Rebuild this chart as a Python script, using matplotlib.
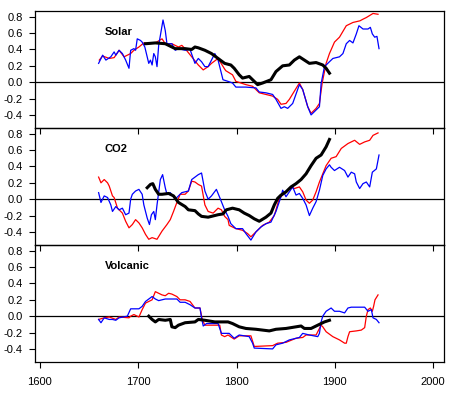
import matplotlib
matplotlib.use("Agg")
import matplotlib.pyplot as plt

plt.rcParams['font.family'] = ['Liberation Sans', 'DejaVu Sans']

panel_names = ["Solar", "CO2", "Volcanic"]
x_ticks = [1600, 1700, 1800, 1900, 2000]
y_ticks = [0.8, 0.6, 0.4, 0.2, 0.0, -0.2, -0.4]

# --- Solar ---
solar_blue_yr = [1659.7, 1663.8, 1667.1, 1672.1, 1675.5, 1677.2, 1680.5, 1683.9, 1687.2, 1690.6,
                 1692.3, 1695.6, 1697.3, 1699.0, 1702.3, 1704.0, 1706.7, 1710.7, 1712.4, 1714.1,
                 1715.8, 1717.4, 1719.1, 1720.8, 1725.2, 1727.5, 1729.2, 1734.2, 1737.6, 1740.9,
                 1747.7, 1752.7, 1757.7, 1761.1, 1764.4, 1767.8, 1771.1, 1777.9, 1781.2, 1786.2,
                 1791.3, 1795.9, 1799.3, 1809.5, 1819.7, 1823.1, 1829.9, 1836.7, 1840.1, 1845.2,
                 1848.6, 1852.0, 1857.1, 1863.9, 1867.3, 1872.4, 1875.8, 1880.9, 1884.3, 1886.0,
                 1889.4, 1894.5, 1898.0, 1904.7, 1908.2, 1911.6, 1915.0, 1918.4, 1921.8, 1924.5,
                 1928.6, 1933.7, 1936.1, 1938.1, 1940.5, 1942.8, 1944.9]
solar_blue = [0.23, 0.33, 0.27, 0.31, 0.37, 0.33, 0.39, 0.35, 0.27, 0.17,
              0.39, 0.41, 0.39, 0.53, 0.51, 0.49, 0.43, 0.23, 0.27, 0.21,
              0.35, 0.31, 0.19, 0.45, 0.76, 0.63, 0.47, 0.47, 0.39, 0.41,
              0.39, 0.40, 0.23, 0.29, 0.25, 0.19, 0.19, 0.35, 0.27, 0.03,
              0.01, -0.01, -0.06, -0.06, -0.07, -0.12, -0.13, -0.15, -0.21, -0.32,
              -0.30, -0.32, -0.26, -0.03, -0.09, -0.30, -0.40, -0.34, -0.30, -0.02,
              0.19, 0.25, 0.29, 0.31, 0.35, 0.47, 0.51, 0.48, 0.59, 0.69,
              0.65, 0.65, 0.67, 0.59, 0.55, 0.56, 0.41]

solar_red_yr = [1660.4, 1663.8, 1670.5, 1675.5, 1680.5, 1685.6, 1688.9, 1692.3, 1695.6, 1700.7,
                1705.7, 1710.7, 1717.4, 1724.2, 1727.5, 1734.2, 1740.9, 1744.3, 1747.7, 1754.4,
                1761.1, 1766.1, 1771.1, 1774.5, 1781.2, 1787.9, 1789.1, 1795.9, 1799.3, 1809.5,
                1816.3, 1823.1, 1829.9, 1836.7, 1841.8, 1845.2, 1850.3, 1853.7, 1863.9, 1867.3,
                1872.4, 1875.8, 1880.9, 1884.3, 1887.1, 1891.1, 1894.5, 1899.6, 1904.7, 1911.6,
                1918.4, 1925.5, 1928.6, 1932.0, 1938.8, 1943.9]
solar_red = [0.27, 0.32, 0.29, 0.30, 0.39, 0.31, 0.33, 0.35, 0.39, 0.43,
             0.48, 0.47, 0.48, 0.53, 0.47, 0.47, 0.43, 0.45, 0.41, 0.31,
             0.21, 0.15, 0.19, 0.23, 0.29, 0.16, 0.14, 0.09, 0.01, -0.03,
             -0.05, -0.13, -0.15, -0.17, -0.21, -0.27, -0.26, -0.21, -0.01, -0.09,
             -0.30, -0.38, -0.32, -0.26, -0.01, 0.23, 0.35, 0.49, 0.55, 0.69,
             0.73, 0.75, 0.77, 0.79, 0.84, 0.83]

solar_black_yr = [1707.4, 1717.4, 1727.5, 1737.6, 1747.7, 1754.4, 1757.7, 1761.1, 1767.8, 1774.5,
                  1781.2, 1787.9, 1794.2, 1797.6, 1802.7, 1806.1, 1812.9, 1816.3, 1821.4, 1826.5,
                  1835.0, 1840.1, 1846.9, 1853.7, 1858.8, 1863.9, 1869.0, 1874.1, 1880.9, 1887.7,
                  1891.1, 1894.5]
solar_black = [0.47, 0.48, 0.47, 0.41, 0.41, 0.40, 0.43, 0.42, 0.39, 0.35,
               0.29, 0.23, 0.21, 0.17, 0.09, 0.05, 0.07, 0.03, -0.03, -0.01,
               0.03, 0.13, 0.20, 0.21, 0.27, 0.31, 0.27, 0.23, 0.24, 0.21,
               0.17, 0.11]

# --- CO2 ---
co2_blue_yr = [1659.7, 1662.1, 1665.4, 1668.8, 1672.1, 1673.8, 1677.2, 1680.5, 1683.9, 1687.2,
               1690.6, 1692.3, 1694.0, 1697.3, 1700.7, 1704.0, 1705.7, 1709.1, 1711.4, 1713.4,
               1715.8, 1717.4, 1719.1, 1722.5, 1724.8, 1727.5, 1729.2, 1732.6, 1737.6, 1740.9,
               1744.3, 1751.0, 1754.4, 1761.1, 1764.4, 1767.8, 1771.1, 1774.5, 1779.5, 1782.9,
               1787.9, 1791.3, 1794.2, 1799.3, 1806.1, 1809.5, 1814.6, 1819.7, 1824.8, 1829.9,
               1835.0, 1840.1, 1845.2, 1846.9, 1850.3, 1853.7, 1857.1, 1860.5, 1863.9, 1867.3,
               1870.7, 1874.1, 1877.5, 1880.9, 1884.3, 1887.7, 1891.1, 1894.5, 1896.2, 1899.6,
               1904.7, 1909.9, 1913.3, 1916.7, 1920.1, 1921.8, 1925.2, 1928.6, 1932.0, 1935.4,
               1938.1, 1942.2, 1944.9]
co2_blue = [0.08, -0.04, 0.04, 0.02, -0.07, -0.15, -0.09, -0.13, -0.11, -0.19,
            -0.17, 0.00, 0.06, 0.10, 0.12, 0.06, -0.07, -0.23, -0.31, -0.19,
            -0.15, -0.25, -0.07, 0.24, 0.30, 0.14, 0.06, 0.08, 0.00, 0.04,
            0.08, 0.10, 0.24, 0.30, 0.32, 0.10, 0.00, 0.04, 0.12, 0.02,
            -0.13, -0.21, -0.30, -0.36, -0.36, -0.42, -0.50, -0.40, -0.34, -0.30,
            -0.28, -0.15, 0.03, 0.11, 0.03, 0.09, 0.15, 0.05, 0.07, 0.01,
            -0.07, -0.20, -0.11, -0.03, 0.11, 0.29, 0.37, 0.42, 0.39, 0.35,
            0.39, 0.35, 0.27, 0.33, 0.31, 0.21, 0.13, 0.19, 0.21, 0.15,
            0.33, 0.37, 0.54]

co2_red_yr = [1659.7, 1662.1, 1665.4, 1668.8, 1670.5, 1673.8, 1675.5, 1678.9, 1683.9, 1687.2,
              1690.6, 1694.0, 1697.3, 1700.7, 1704.0, 1707.4, 1710.7, 1714.1, 1719.1, 1724.2,
              1729.2, 1732.6, 1735.9, 1739.3, 1742.6, 1747.7, 1751.0, 1754.4, 1757.7, 1761.1,
              1764.4, 1767.8, 1771.1, 1776.2, 1781.2, 1784.6, 1787.9, 1791.3, 1792.5, 1799.3,
              1806.1, 1811.2, 1814.6, 1819.7, 1826.5, 1833.3, 1838.4, 1843.5, 1850.3, 1855.4,
              1858.8, 1863.9, 1867.3, 1870.7, 1874.1, 1877.5, 1880.9, 1884.3, 1891.1, 1896.2,
              1901.3, 1906.5, 1913.3, 1920.1, 1925.2, 1930.3, 1935.4, 1938.8, 1943.9]
co2_red = [0.27, 0.20, 0.24, 0.20, 0.16, 0.04, 0.02, -0.11, -0.17, -0.27,
           -0.35, -0.31, -0.25, -0.29, -0.35, -0.43, -0.49, -0.47, -0.49, -0.39,
           -0.31, -0.25, -0.15, -0.04, 0.06, 0.06, 0.10, 0.22, 0.21, 0.18,
           0.16, -0.07, -0.15, -0.17, -0.11, -0.13, -0.21, -0.25, -0.32, -0.36,
           -0.38, -0.42, -0.46, -0.40, -0.32, -0.28, -0.20, 0.01, 0.09, 0.15,
           0.13, 0.15, 0.09, -0.01, -0.05, -0.01, 0.09, 0.21, 0.41, 0.50,
           0.52, 0.62, 0.68, 0.72, 0.67, 0.70, 0.72, 0.78, 0.81]

co2_black_yr = [1709.1, 1712.4, 1714.8, 1717.4, 1720.8, 1724.2, 1730.9, 1735.9, 1740.9, 1747.7,
                1751.0, 1757.7, 1761.1, 1764.4, 1771.1, 1774.5, 1781.2, 1786.2, 1789.6, 1795.9,
                1802.7, 1807.8, 1812.9, 1818.0, 1823.1, 1829.9, 1835.0, 1838.4, 1841.8, 1845.2,
                1850.3, 1855.4, 1860.5, 1865.6, 1870.7, 1875.8, 1880.9, 1886.0, 1891.1, 1894.5]
co2_black = [0.14, 0.18, 0.19, 0.12, 0.06, 0.06, 0.07, 0.04, -0.04, -0.09,
             -0.13, -0.14, -0.18, -0.21, -0.22, -0.21, -0.19, -0.18, -0.13, -0.11,
             -0.13, -0.17, -0.20, -0.24, -0.27, -0.22, -0.17, -0.07, 0.01, 0.05,
             0.09, 0.15, 0.19, 0.24, 0.31, 0.41, 0.50, 0.54, 0.64, 0.73]

# --- Volcanic ---
volc_blue_yr = [1659.7, 1662.1, 1665.4, 1670.5, 1673.8, 1677.2, 1680.5, 1688.9, 1692.3, 1700.7,
                1704.0, 1707.4, 1714.1, 1717.4, 1720.8, 1727.5, 1739.3, 1742.6, 1747.7, 1752.7,
                1757.7, 1762.8, 1764.4, 1766.1, 1769.5, 1781.2, 1784.6, 1791.3, 1792.5, 1797.6,
                1802.7, 1812.9, 1816.3, 1818.0, 1836.7, 1840.1, 1846.9, 1853.7, 1863.9, 1867.3,
                1874.1, 1882.6, 1884.3, 1886.0, 1887.7, 1891.1, 1896.2, 1899.6, 1904.7, 1909.9,
                1913.3, 1916.7, 1930.3, 1933.7, 1937.1, 1938.8, 1942.2, 1944.9]
volc_blue = [-0.04, -0.08, -0.02, -0.04, -0.04, -0.05, -0.02, 0.00, 0.09, 0.09,
             0.12, 0.18, 0.24, 0.21, 0.19, 0.21, 0.21, 0.17, 0.17, 0.14,
             0.10, 0.10, -0.02, -0.12, -0.09, -0.09, -0.21, -0.21, -0.21, -0.27,
             -0.23, -0.25, -0.33, -0.39, -0.40, -0.35, -0.33, -0.29, -0.26, -0.21,
             -0.23, -0.25, -0.21, -0.07, 0.00, 0.06, 0.10, 0.06, 0.06, 0.04,
             0.10, 0.11, 0.11, 0.06, 0.08, -0.02, -0.04, -0.08]

volc_red_yr = [1659.7, 1665.4, 1670.5, 1677.2, 1680.5, 1690.6, 1692.3, 1695.6, 1700.7, 1704.0,
               1707.4, 1714.1, 1717.4, 1720.8, 1724.2, 1727.5, 1730.9, 1734.2, 1739.3, 1742.6,
               1747.7, 1752.7, 1757.7, 1762.8, 1765.1, 1767.8, 1782.9, 1784.6, 1787.9, 1791.3,
               1797.6, 1802.7, 1814.6, 1818.0, 1836.7, 1841.8, 1850.3, 1860.5, 1867.3, 1870.7,
               1880.9, 1884.3, 1886.0, 1887.7, 1891.1, 1897.9, 1904.7, 1909.9, 1911.6, 1913.3,
               1915.0, 1921.8, 1926.9, 1930.3, 1932.0, 1933.7, 1936.1, 1938.1, 1939.4, 1940.8,
               1943.9]
volc_red = [-0.04, -0.02, -0.01, -0.04, -0.01, -0.02, 0.00, 0.02, -0.01, 0.08,
            0.16, 0.20, 0.30, 0.28, 0.26, 0.25, 0.28, 0.27, 0.24, 0.20,
            0.20, 0.18, 0.10, 0.10, -0.04, -0.11, -0.11, -0.23, -0.25, -0.23,
            -0.28, -0.24, -0.24, -0.37, -0.36, -0.33, -0.32, -0.27, -0.26, -0.23,
            -0.23, -0.15, -0.11, -0.13, -0.19, -0.25, -0.29, -0.33, -0.33, -0.25,
            -0.19, -0.18, -0.17, -0.14, 0.00, 0.08, 0.10, 0.06, 0.12, 0.20,
            0.26]

volc_black_yr = [1710.7, 1714.1, 1717.4, 1720.8, 1727.5, 1732.6, 1734.2, 1737.6, 1740.9, 1747.7,
                 1757.7, 1761.1, 1767.8, 1777.9, 1791.3, 1795.9, 1802.7, 1809.5, 1819.7, 1826.5,
                 1833.3, 1840.1, 1850.3, 1860.5, 1865.6, 1869.0, 1875.8, 1880.9, 1884.3, 1889.4,
                 1894.5]
volc_black = [0.00, -0.04, -0.07, -0.04, -0.05, -0.04, -0.13, -0.14, -0.11, -0.08,
              -0.07, -0.04, -0.05, -0.07, -0.07, -0.09, -0.13, -0.15, -0.16, -0.17,
              -0.18, -0.16, -0.15, -0.13, -0.12, -0.15, -0.15, -0.12, -0.10, -0.07,
              -0.05]

panels = [
    (solar_red_yr, solar_red, solar_blue_yr, solar_blue, solar_black_yr, solar_black),
    (co2_red_yr, co2_red, co2_blue_yr, co2_blue, co2_black_yr, co2_black),
    (volc_red_yr, volc_red, volc_blue_yr, volc_blue, volc_black_yr, volc_black),
]

fig = plt.figure(figsize=(4.55, 3.97), dpi=100)
left, width = 35 / 455, 409 / 455
h = 117 / 397
bottoms = [(397 - 128) / 397, (397 - 245) / 397, (397 - 362) / 397]

for i, (name, data) in enumerate(zip(panel_names, panels)):
    ry, rv, by, bv, ky, kv = data
    ax = fig.add_axes([left, bottoms[i], width, h])
    ax.patch.set_visible(False)  # so the upper panel's ticks show through
    ax.axhline(0, color='black', lw=0.9, zorder=1)
    ax.plot(ry, rv, color='red', lw=0.9, zorder=2)
    ax.plot(by, bv, color='blue', lw=0.9, zorder=3)
    ax.plot(ky, kv, color='black', lw=2.2, zorder=4)
    ax.text(1666, 0.61, name, fontsize=8, fontweight='bold', va='center', ha='left')

    ax.set_xlim(1595, 2011)
    ax.set_ylim(-0.56, 0.87)
    ax.set_xticks(x_ticks)
    ax.set_yticks(y_ticks)
    ax.set_yticklabels([f"{t:.1f}" for t in y_ticks])
    ax.tick_params(axis='both', direction='out', length=4, width=0.8, labelsize=8)
    ax.tick_params(axis='y', pad=5)
    ax.tick_params(axis='x', pad=7)
    if i < 2:
        ax.tick_params(axis='x', labelbottom=False)
    for s in ax.spines.values():
        s.set_linewidth(0.9)

fig.savefig("out.png", dpi=100)
